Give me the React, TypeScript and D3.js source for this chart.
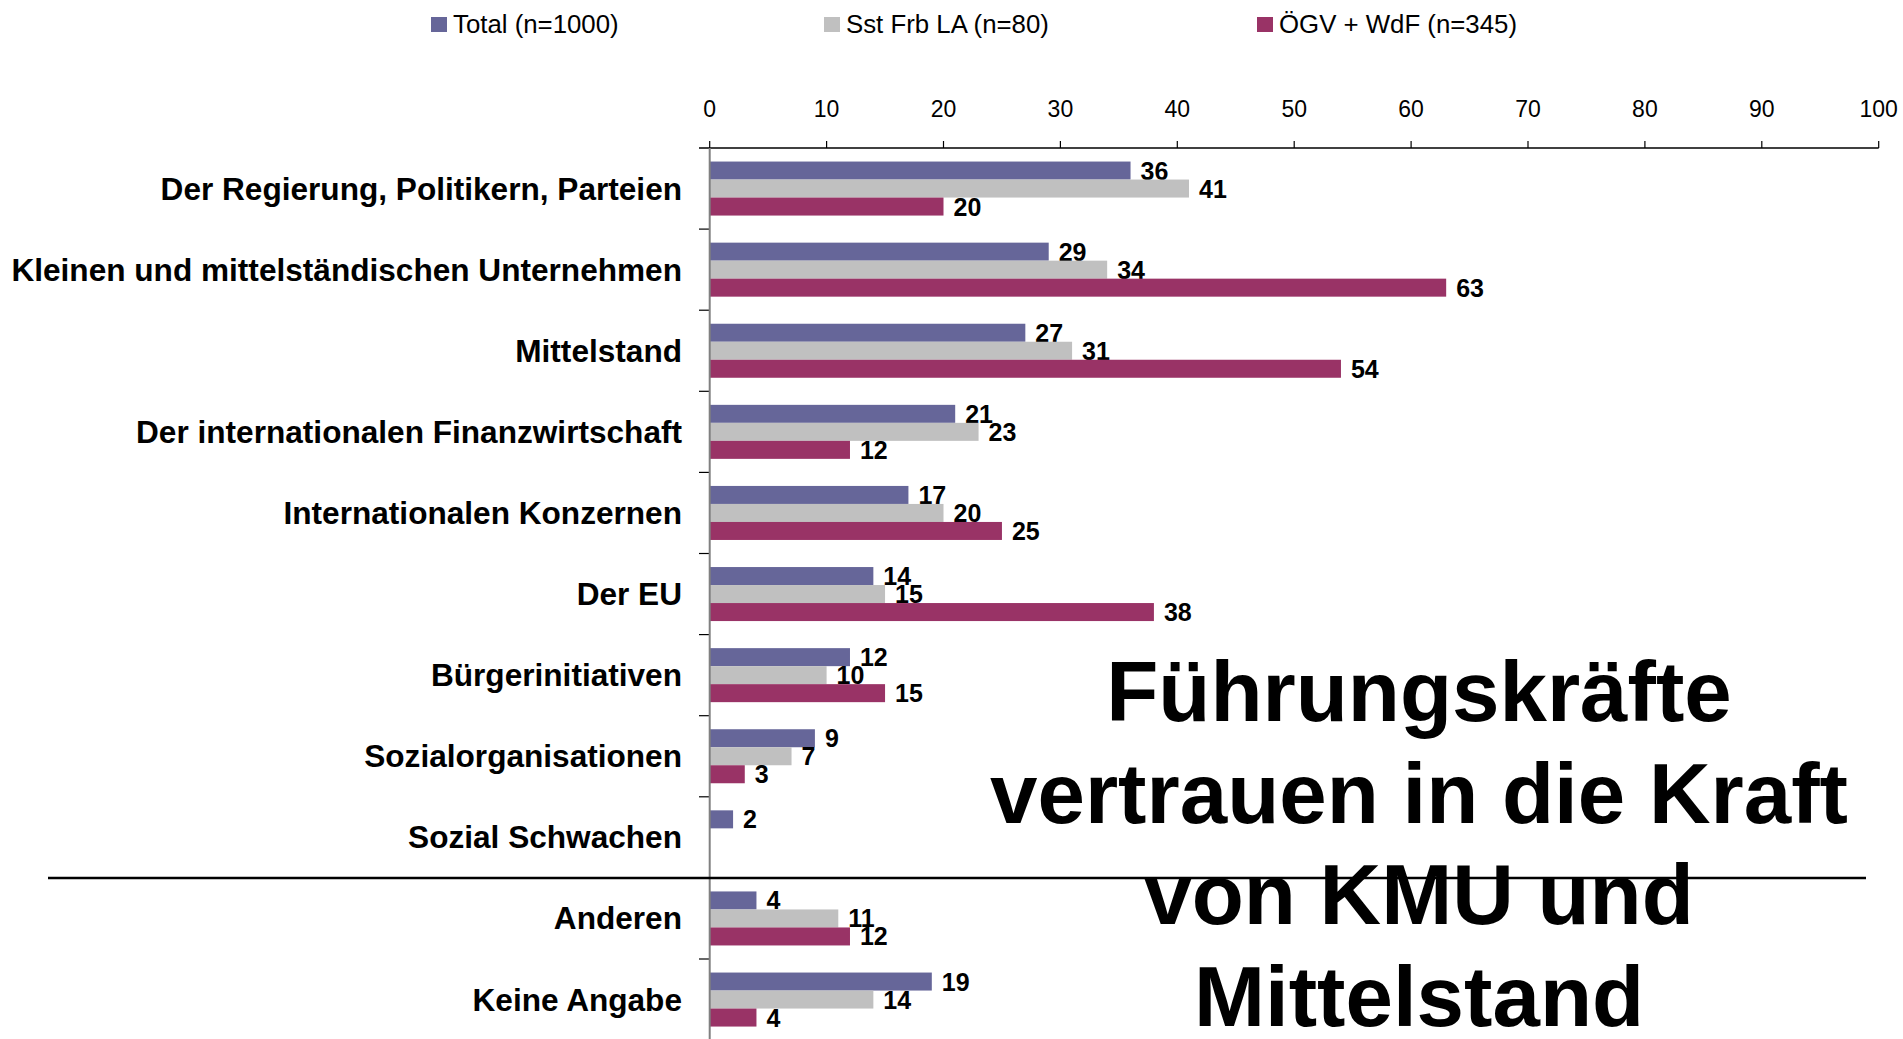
import React from "react";
import * as d3 from "d3";

const categories = [
  "Der Regierung, Politikern, Parteien",
  "Kleinen und mittelständischen Unternehmen",
  "Mittelstand",
  "Der internationalen Finanzwirtschaft",
  "Internationalen Konzernen",
  "Der EU",
  "Bürgerinitiativen",
  "Sozialorganisationen",
  "Sozial Schwachen",
  "Anderen",
  "Keine Angabe",
];

const seriesNames = ["Total (n=1000)", "Sst Frb LA (n=80)", "ÖGV + WdF (n=345)"];
const seriesColors = ["#666699", "#C0C0C0", "#993366"];

const totalValues: (number | null)[] = [36, 29, 27, 21, 17, 14, 12, 9, 2, 4, 19];
const sstValues: (number | null)[] = [41, 34, 31, 23, 20, 15, 10, 7, null, 11, 14];
const oegvValues: (number | null)[] = [20, 63, 54, 12, 25, 38, 15, 3, null, 12, 4];

const tickValues = [0, 10, 20, 30, 40, 50, 60, 70, 80, 90, 100];

const titleLines = ["Führungskräfte", "vertrauen in die Kraft", "von KMU und", "Mittelstand"];

const W = 1903;
const H = 1039;

export default function App() {
  const seriesValues = [totalValues, sstValues, oegvValues];
  const axisY = 148;
  const step = 81.1;
  const x = d3.scaleLinear().domain([0, 100]).range([709.7, 1878.7]);
  const y = d3
    .scaleBand<string>()
    .domain(categories)
    .range([axisY, axisY + step * categories.length])
    .paddingInner(0.334)
    .paddingOuter(0.167);
  const ys = d3
    .scaleBand<number>()
    .domain([0, 1, 2])
    .range([0, y.bandwidth()]);

  const font = "Liberation Sans, Arial, sans-serif";
  const legendX = [431, 824, 1257];

  return (
    <div style={{ position: "fixed", left: 0, top: 0, width: W, height: H, overflow: "hidden", background: "#fff" }}>
      <svg width={W} height={H} style={{ display: "block" }} fontFamily={font}>
        {/* legend */}
        {seriesNames.map((n, i) => (
          <g key={n}>
            <rect x={legendX[i]} y={17} width={16} height={15} fill={seriesColors[i]} />
            <text x={legendX[i] + 22} y={33} fontSize={25.8} fill="#000">
              {n}
            </text>
          </g>
        ))}

        {/* top axis */}
        <line x1={699} x2={x(100)} y1={axisY} y2={axisY} stroke="#000" strokeWidth={1.5} />
        {tickValues.map((t) => (
          <g key={t}>
            <line x1={x(t)} x2={x(t)} y1={axisY - 7} y2={axisY} stroke="#000" strokeWidth={1.2} />
            <text x={x(t)} y={117} fontSize={23} textAnchor="middle" fill="#000">
              {t}
            </text>
          </g>
        ))}

        {/* category ticks */}
        {categories.map((c, i) => (
          <line
            key={"ct" + i}
            x1={699}
            x2={x(0)}
            y1={axisY + step * (i + 1)}
            y2={axisY + step * (i + 1)}
            stroke="#000"
            strokeWidth={1.2}
          />
        ))}

        {/* bars */}
        {categories.map((c, ci) => (
          <g key={c}>
            {seriesValues.map((vals, si) => {
              const v = vals[ci];
              if (v === null) return null;
              const by = (y(c) as number) + (ys(si) as number);
              return (
                <g key={si}>
                  <rect x={x(0)} y={by} width={x(v) - x(0)} height={ys.bandwidth()} fill={seriesColors[si]} />
                  <text
                    x={x(v) + 10}
                    y={by + ys.bandwidth() / 2}
                    dominantBaseline="central"
                    fontSize={25}
                    fontWeight="bold"
                    fill="#000"
                  >
                    {v}
                  </text>
                </g>
              );
            })}
            <text
              x={682}
              y={(y(c) as number) + y.bandwidth() / 2}
              dominantBaseline="central"
              textAnchor="end"
              fontSize={31.6}
              fontWeight="bold"
              fill="#000"
            >
              {c}
            </text>
          </g>
        ))}

        {/* value axis line */}
        <line x1={x(0)} x2={x(0)} y1={axisY} y2={H} stroke="#808080" strokeWidth={2} />

        {/* separator */}
        <line x1={48} x2={1866} y1={axisY + step * 9} y2={axisY + step * 9} stroke="#000" strokeWidth={2.5} />

        {/* title */}
        {titleLines.map((l, i) => (
          <text
            key={l}
            x={1419}
            y={721 + i * 101.6}
            textAnchor="middle"
            fontSize={85.3}
            fontWeight="bold"
            fill="#000"
          >
            {l}
          </text>
        ))}
      </svg>
    </div>
  );
}
